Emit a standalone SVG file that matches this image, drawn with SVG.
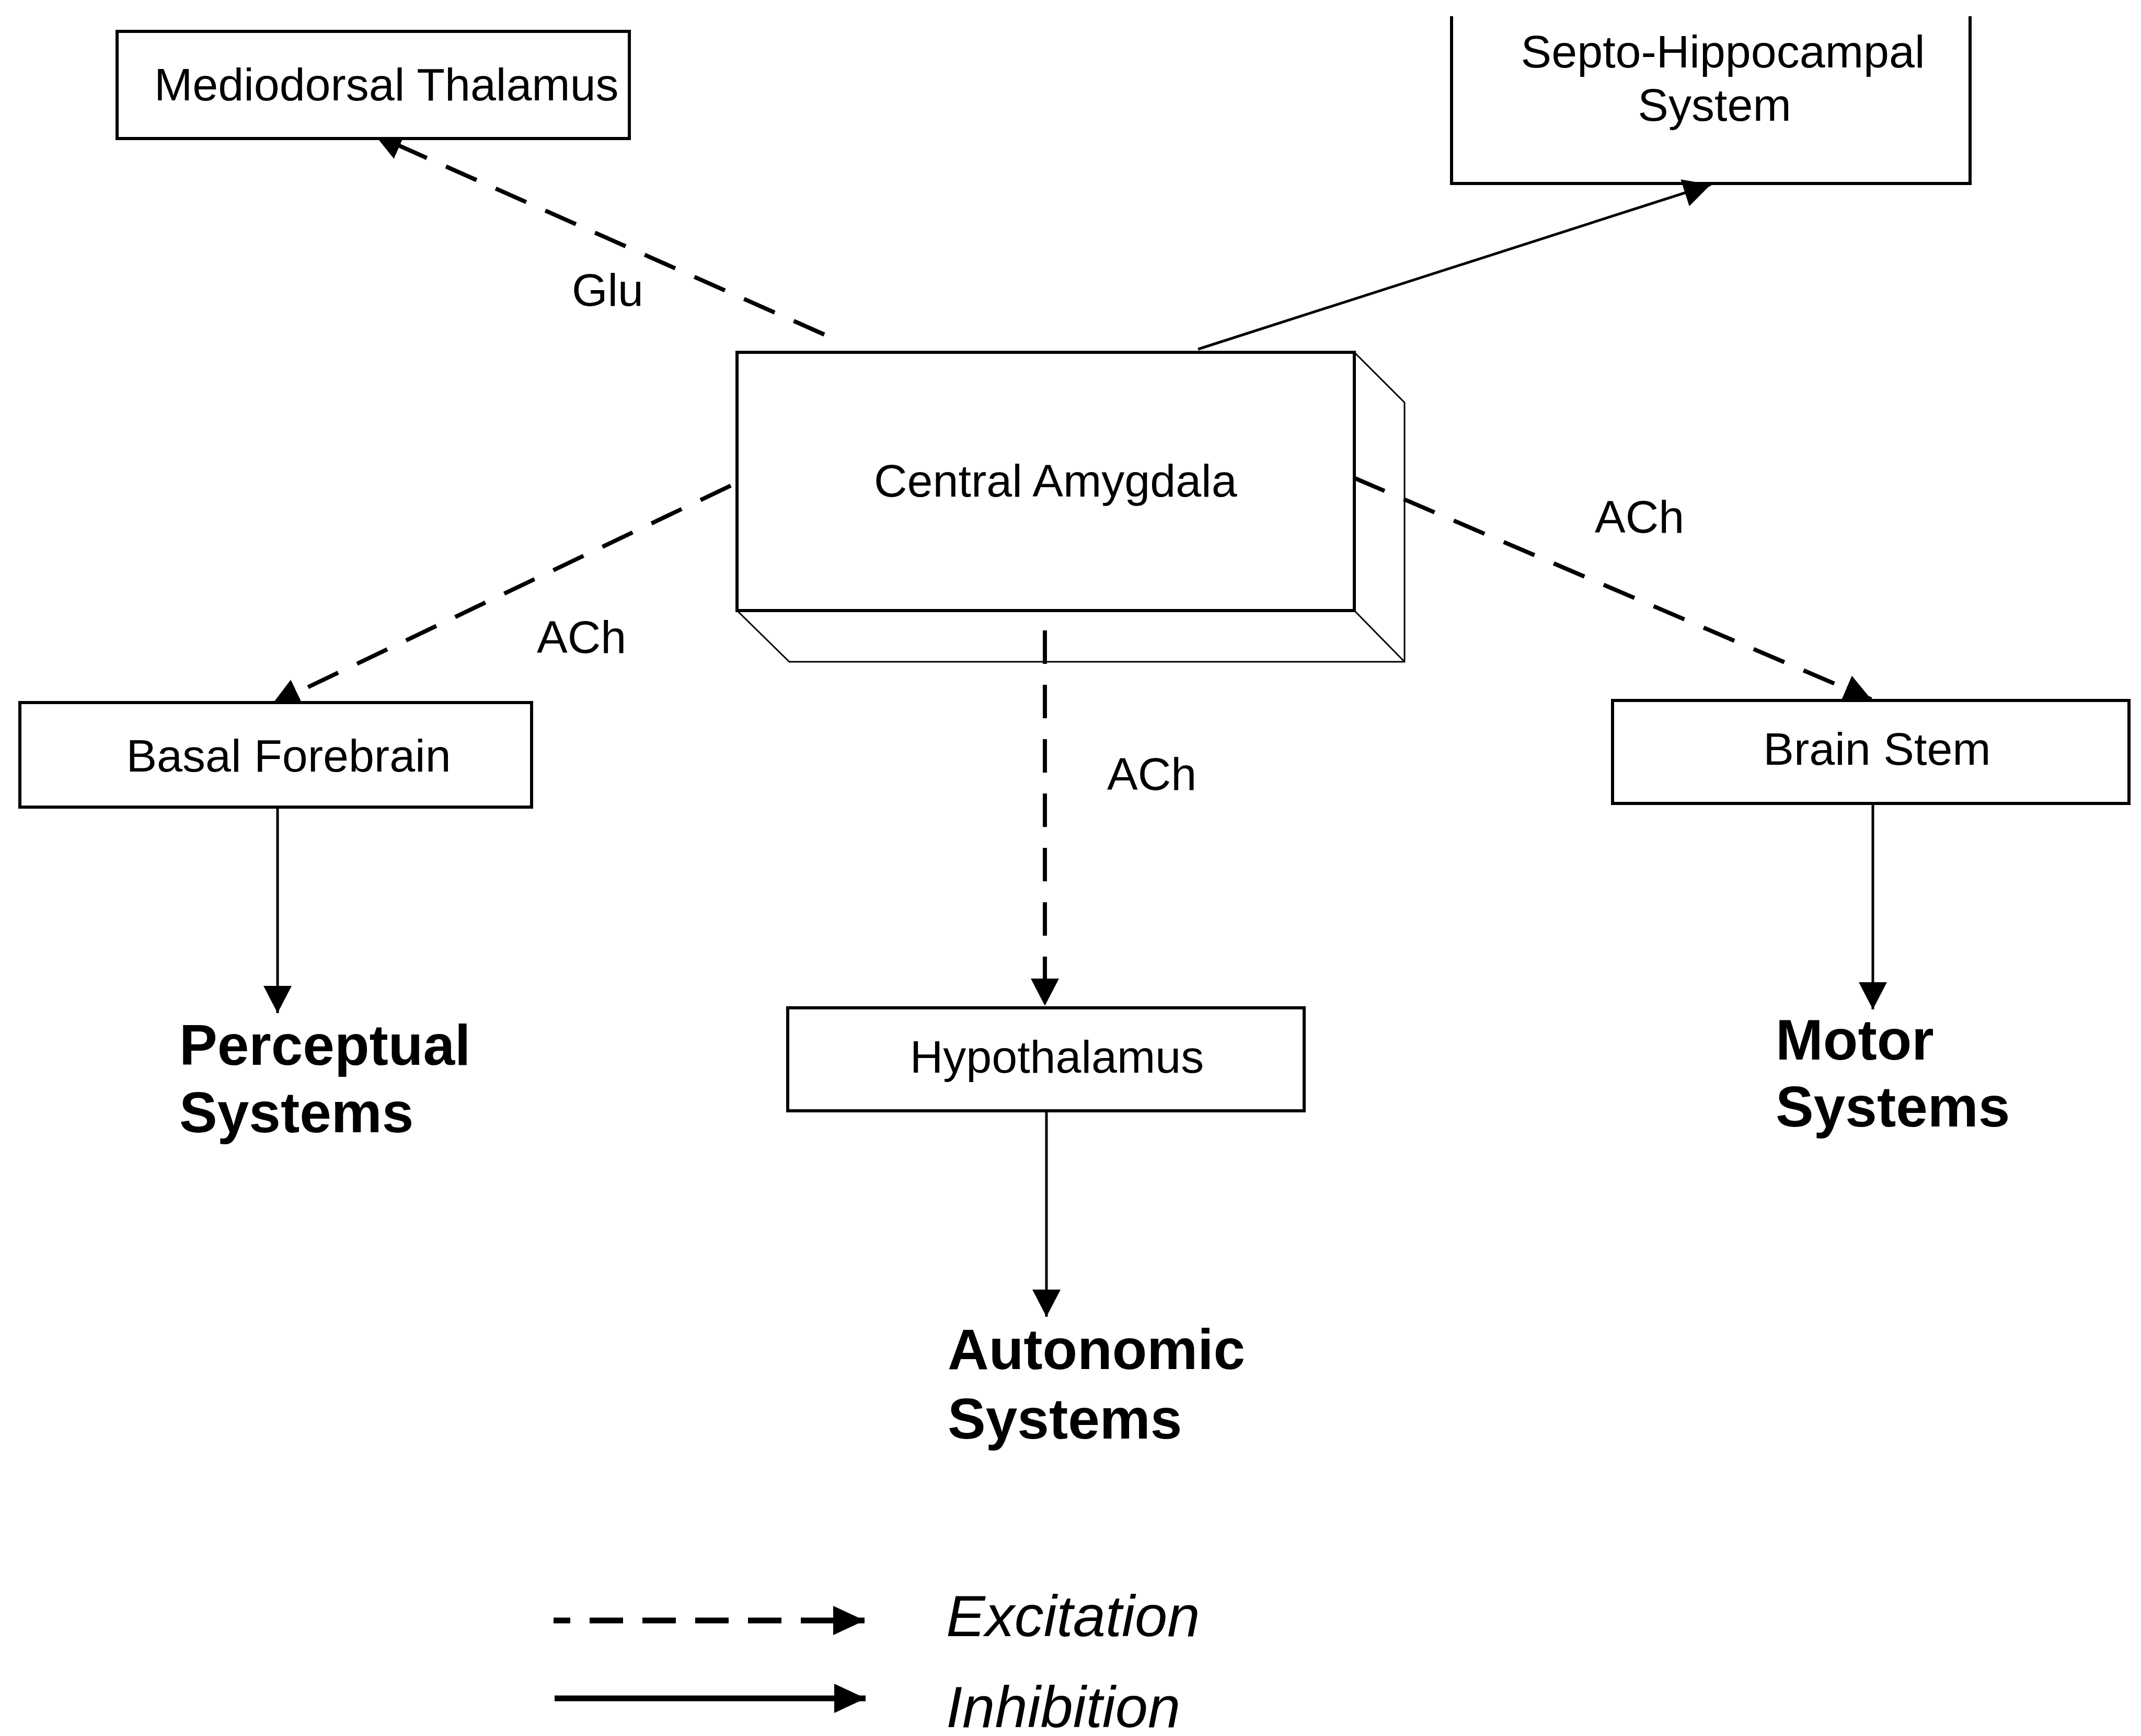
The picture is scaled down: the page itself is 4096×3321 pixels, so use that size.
<svg xmlns="http://www.w3.org/2000/svg" width="4096" height="3321" viewBox="0 0 4096 3321">
  <style>
    .box { fill: #ffffff; stroke: #000000; stroke-width: 6; }
    .edge { fill: none; stroke: #000000; stroke-width: 3; }
    .label { font-family: "Liberation Sans", Arial, sans-serif; font-size: 88px; fill: #000000; }
    .target { font-family: "Liberation Sans", Arial, sans-serif; font-size: 109px; font-weight: bold; fill: #000000; }
    .legend-text { font-family: "Liberation Sans", Arial, sans-serif; font-size: 112px; font-style: italic; fill: #000000; }
    .exc { fill: none; stroke: #000000; stroke-width: 8; stroke-dasharray: 64 40; }
    .inh { fill: none; stroke: #000000; stroke-width: 5; }
  </style>
  <defs>
    <marker id="head" markerUnits="userSpaceOnUse" markerWidth="54" markerHeight="56" refX="52" refY="27" orient="auto">
      <path d="M0,0 L52,27 L0,54 Z" fill="#000000"/>
    </marker>
    <marker id="head-legend" markerUnits="userSpaceOnUse" markerWidth="62" markerHeight="58" refX="60" refY="28" orient="auto">
      <path d="M0,0 L60,28 L0,56 Z" fill="#000000"/>
    </marker>
  </defs>

  <rect width="4096" height="3321" fill="#ffffff"/>

  <!-- connectors -->
  <g id="connectors">
    <line class="exc" x1="1577" y1="640" x2="717" y2="258" marker-end="url(#head)"/>
    <line class="inh" x1="2292" y1="668" x2="3273" y2="353" marker-end="url(#head)"/>
    <line class="exc" x1="1398" y1="929" x2="521" y2="1347" marker-end="url(#head)"/>
    <line class="exc" x1="1999" y1="1206" x2="1999" y2="1924" marker-end="url(#head)"/>
    <line class="exc" x1="2590" y1="914" x2="3580" y2="1338" marker-end="url(#head)"/>
    <line class="inh" x1="531" y1="1546" x2="531" y2="1938" marker-end="url(#head)"/>
    <line class="inh" x1="2002" y1="2125" x2="2002" y2="2519" marker-end="url(#head)"/>
    <line class="inh" x1="3583" y1="1537" x2="3583" y2="1931" marker-end="url(#head)"/>
  </g>

  <!-- transmitter labels -->
  <g id="edge-labels">
    <text class="label" x="1094" y="585">Glu</text>
    <text class="label" x="1027" y="1249">ACh</text>
    <text class="label" x="2118" y="1511">ACh</text>
    <text class="label" x="3051" y="1019">ACh</text>
  </g>

  <g id="mediodorsal-thalamus">
    <rect class="box" x="224" y="60" width="980" height="205"/>
    <text class="label" x="295" y="192">Mediodorsal Thalamus</text>
  </g>

  <g id="septo-hippocampal-system">
    <polyline class="box" points="2777,31 2777,351 3769,351 3769,31" style="fill:none"/>
    <text class="label" x="3296" y="129" text-anchor="middle">Septo-Hippocampal</text>
    <text class="label" x="3280" y="231" text-anchor="middle">System</text>
  </g>

  <g id="central-amygdala">
    <!-- right and bottom faces of the block -->
    <polyline class="edge" points="2591,674 2687,770 2687,1266 1510,1266 1410,1168"/>
    <line class="edge" x1="2591" y1="1168" x2="2687" y2="1266"/>
    <rect class="box" x="1410" y="674" width="1181" height="494" style="fill:none"/>
    <text class="label" x="1672" y="950">Central Amygdala</text>
  </g>

  <g id="basal-forebrain">
    <rect class="box" x="38" y="1344" width="979" height="200"/>
    <text class="label" x="552" y="1476" text-anchor="middle">Basal Forebrain</text>
  </g>

  <g id="hypothalamus">
    <rect class="box" x="1507" y="1928" width="988" height="197"/>
    <text class="label" x="2022" y="2052" text-anchor="middle">Hypothalamus</text>
  </g>

  <g id="brain-stem">
    <rect class="box" x="3085" y="1340" width="988" height="197"/>
    <text class="label" x="3591" y="1463" text-anchor="middle">Brain Stem</text>
  </g>

  <g id="perceptual-systems">
    <text class="target" x="343" y="2037">Perceptual</text>
    <text class="target" x="343" y="2166">Systems</text>
  </g>

  <g id="autonomic-systems">
    <text class="target" x="1813" y="2619">Autonomic</text>
    <text class="target" x="1813" y="2752">Systems</text>
  </g>

  <g id="motor-systems">
    <text class="target" x="3397" y="2027">Motor</text>
    <text class="target" x="3397" y="2155">Systems</text>
  </g>

  <!-- key -->
  <g id="legend">
    <line x1="1059" y1="3100" x2="1654" y2="3100" fill="none" stroke="#000000" stroke-width="11" stroke-dasharray="64 37" stroke-dashoffset="32" marker-end="url(#head-legend)"/>
    <line x1="1061" y1="3249" x2="1656" y2="3249" fill="none" stroke="#000000" stroke-width="11" marker-end="url(#head-legend)"/>
    <text class="legend-text" x="1810" y="3130">Excitation</text>
    <text class="legend-text" x="1810" y="3304">Inhibition</text>
  </g>
</svg>
